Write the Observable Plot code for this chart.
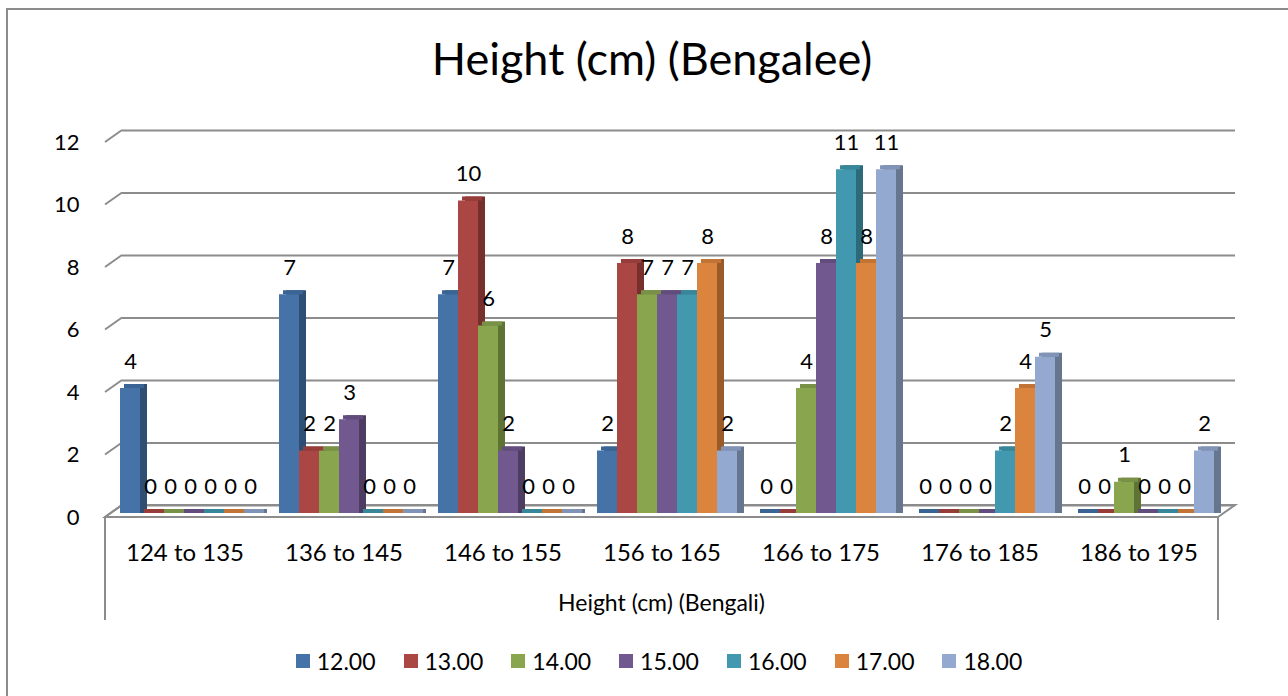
<!DOCTYPE html>
<html>
<head>
<meta charset="utf-8">
<script src="https://cdn.jsdelivr.net/npm/d3@7"></script>
<script src="https://cdn.jsdelivr.net/npm/@observablehq/plot@0.6"></script>
<style>
  body { margin: 0; background: #fff; }
  #wrap { position: relative; width: 1288px; height: 696px; overflow: hidden; background: #fff; font-family: Lato, "Liberation Sans", sans-serif; color: #000; }
  #frame { position: absolute; left: 6px; top: 8px; width: 1400px; height: 800px; border-left: 2px solid #8c8c8c; border-top: 2px solid #8c8c8c; }
  #title { position: absolute; left: 8px; width: 1288px; top: 36px; text-align: center; font-size: 45px; line-height: 45px; }
  #chart { position: absolute; left: 0; top: 110px; }
  #xtitle { position: absolute; left: 0; width: 1323px; top: 591px; text-align: center; font-size: 23px; line-height: 23px; }
  #legend { position: absolute; left: 15px; width: 1288px; top: 649px; display: flex; justify-content: center; font-size: 23px; line-height: 24px; }
  .item { display: flex; align-items: center; margin: 0 14px; }
  .sw { width: 14px; height: 14px; margin-right: 7px; }
</style>
</head>
<body>
<div id="wrap">
  <div id="frame"></div>
  <div id="title">Height (cm) (Bengalee)</div>
  <div id="chart"></div>
  <div id="xtitle">Height (cm) (Bengali)</div>
  <div id="legend"></div>
</div>
<script>
// ---- data ----
const categories = ["124 to 135", "136 to 145", "146 to 155", "156 to 165", "166 to 175", "176 to 185", "186 to 195"];
const seriesNames = ["12.00", "13.00", "14.00", "15.00", "16.00", "17.00", "18.00"];
const s12 = [4, 7, 7, 2, 0, 0, 0];
const s13 = [0, 2, 10, 8, 0, 0, 0];
const s14 = [0, 2, 6, 7, 4, 0, 1];
const s15 = [0, 3, 2, 7, 8, 0, 0];
const s16 = [0, 0, 0, 7, 11, 2, 0];
const s17 = [0, 0, 0, 8, 8, 4, 0];
const s18 = [0, 0, 0, 2, 11, 5, 2];
const yTicks = [0, 2, 4, 6, 8, 10, 12];

// ---- styles ----
const frontColors = ["#4572A7", "#AA4643", "#89A54E", "#71588F", "#4198AF", "#DB843D", "#93A9CF"];
const sideColors  = ["#2F4E74", "#762F2D", "#5F7335", "#4E3D63", "#2C6A7A", "#9A5B28", "#66768F"];
const topColors   = ["#3A6493", "#963D3A", "#789146", "#624C7E", "#38869A", "#C17435", "#8193B6"];

const seriesValues = [s12, s13, s14, s15, s16, s17, s18];
const data = categories.flatMap((c, i) => seriesNames.map((s, j) => ({cat: c, series: s, si: j, value: seriesValues[j][i]})));

const plot = Plot.plot({
  width: 1288,
  height: 520,
  marginLeft: 105,
  marginRight: 70,
  marginTop: 32,
  marginBottom: 113,
  style: {fontFamily: "Lato, 'Liberation Sans', sans-serif", background: "transparent", color: "#000"},
  fx: {domain: categories, padding: 0, label: null},
  x: {domain: seriesNames, paddingInner: 0, paddingOuter: 0.4, axis: null},
  y: {domain: [0, 12], axis: null},
  marks: [
    Plot.ruleY(yTicks, {dx: 17, dy: -12, stroke: "#8c8c8c", strokeWidth: 2}),
    Plot.barY(data, {fx: "cat", x: "series", y: "value", fill: d => sideColors[d.si], dx: 12, dy: -8, insetBottom: -4}),
    Plot.barY(data, {fx: "cat", x: "series", y1: "value", y2: "value", fill: d => topColors[d.si], dx: 9, dy: -4, insetTop: -4}),
    Plot.barY(data, {fx: "cat", x: "series", y: "value", fill: d => frontColors[d.si], dx: 5, dy: -4}),
    Plot.text(data, {fx: "cat", x: "series", y: "value", text: d => String(d.value), dx: 5, dy: -31, fontSize: 22, fill: "#000"}),
    Plot.axisY(yTicks, {tickSize: 0, tickPadding: 26, fontSize: 22, label: null}),
    Plot.axisFx({anchor: "bottom", tickSize: 0, tickPadding: 26, fontSize: 24, label: null})
  ]
});

document.getElementById("chart").appendChild(plot);

// 3D floor, wall diagonals and category box lines, placed with the plot's own y scale
const ys = plot.scale("y");
const svg = d3.select(plot);
const x0 = 105, x1 = 1288 - 70, ddx = 17, ddy = -12;
const y0 = ys.apply(0);
const deco = svg.insert("g", ":first-child").attr("stroke", "#8c8c8c").attr("stroke-width", 2).attr("fill", "none");
deco.append("polygon")
  .attr("points", [[x0, y0], [x1, y0], [x1 + ddx, y0 + ddy], [x0 + ddx, y0 + ddy]].map(p => p.join(",")).join(" "))
  .attr("fill", "#fff");
yTicks.forEach(t => {
  const yy = ys.apply(t);
  deco.append("line").attr("x1", x0).attr("y1", yy).attr("x2", x0 + ddx).attr("y2", yy + ddy);
});
deco.append("line").attr("x1", x0).attr("y1", y0).attr("x2", x0).attr("y2", y0 + 103);
deco.append("line").attr("x1", x1).attr("y1", y0).attr("x2", x1).attr("y2", y0 + 103);

// legend
const legend = d3.select("#legend");
seriesNames.forEach((s, j) => {
  const it = legend.append("div").attr("class", "item");
  it.append("div").attr("class", "sw").style("background", frontColors[j]);
  it.append("span").text(s);
});
</script>
</body>
</html>
